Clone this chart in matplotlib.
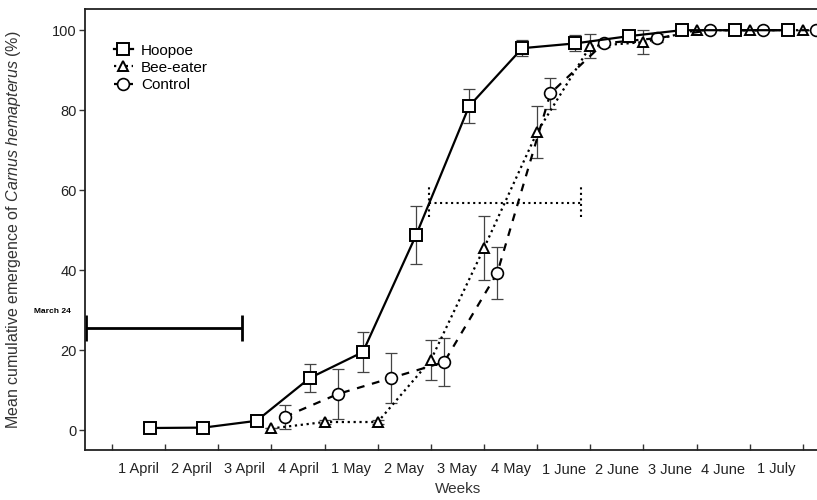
import matplotlib
matplotlib.use('Agg')
import matplotlib.pyplot as plt
import numpy as np

# week labels (one per weekly bin)
weeks = ['1 April', '2 April', '3 April', '4 April', '1 May', '2 May', '3 May',
         '4 May', '1 June', '2 June', '3 June', '4 June', '1 July']

# sampling positions (in weeks from 1 April)
hoopoe_x = [0.72, 1.72, 2.72, 3.72, 4.72, 5.72, 6.72, 7.72, 8.72, 9.72, 10.72, 11.72, 12.72]
hoopoe_y = [0.5, 0.6, 2.3, 13.0, 19.5, 48.7, 81.0, 95.5, 96.7, 98.5, 100, 100, 100]
hoopoe_err = [0, 0, 0, 3.6, 5.0, 7.3, 4.2, 2.0, 2.0, 1.5, 0, 0, 0]

bee_x = [3, 4, 5, 6, 7, 8, 9, 10, 11, 12, 13]
bee_y = [0.4, 2.0, 2.0, 17.5, 45.5, 74.5, 96.0, 97.0, 100, 100, 100]
bee_err = [0, 0.5, 0.5, 5.0, 8.0, 6.5, 3.0, 3.0, 0, 0, 0]

control_x = [3.25, 4.25, 5.25, 6.25, 7.25, 8.25, 9.25, 10.25, 11.25, 12.25, 13.25]
control_y = [3.3, 9.0, 13.0, 17.0, 39.3, 84.2, 96.7, 98.0, 100, 100, 100]
control_err = [3.0, 6.2, 6.3, 6.0, 6.5, 3.8, 1.0, 1.0, 0, 0, 0]

# horizontal ranges (start, end, level)
march_range = [-0.5, 2.45, 25.5]
dotted_range = [5.97, 8.82, 56.8]

plt.rcParams['font.family'] = ['Liberation Sans', 'DejaVu Sans']
plt.rcParams['mathtext.fontset'] = 'custom'
plt.rcParams['mathtext.it'] = 'Liberation Sans:italic'
plt.rcParams['mathtext.rm'] = 'Liberation Sans'

fig = plt.figure(figsize=(8.17, 5), dpi=100)
ax = fig.add_axes([85 / 817, 0.1, (832 - 85) / 817, 0.882])

ek = dict(fmt='none', ecolor='#444444', elinewidth=0.9, capsize=4, capthick=0.9, zorder=2)
ax.errorbar(hoopoe_x, hoopoe_y, yerr=hoopoe_err, **ek)
ax.errorbar(bee_x, bee_y, yerr=bee_err, **ek)
ax.errorbar(control_x, control_y, yerr=control_err, **ek)

ax.plot(hoopoe_x, hoopoe_y, '-', color='black', lw=1.6, marker='s', ms=8.5,
        mfc='white', mec='black', mew=1.4, label='Hoopoe', zorder=4, clip_on=False)
ax.plot(bee_x, bee_y, ':', color='black', lw=1.6, marker='^', ms=7.5,
        mfc='white', mec='black', mew=1.4, label='Bee-eater', zorder=3, clip_on=False)
ax.plot(control_x, control_y, '--', color='black', lw=1.6, dashes=(3.5, 3.5), marker='o', ms=8.5,
        mfc='white', mec='black', mew=1.2, label='Control', zorder=3, clip_on=False)

# March 24 range
x0, x1, yl = march_range
ax.hlines(yl, x0, x1, color='black', lw=2)
ax.vlines([x0, x1], yl - 3.2, yl + 3.2, color='black', lw=2)
ax.text(-1.13, yl + 4.2, 'March 24', fontsize=6, fontweight='bold',
        ha='center', va='center', clip_on=False)

# dotted range
x0, x1, yl = dotted_range
ax.hlines(yl, x0, x1, color='black', lw=1.5, linestyles=':')
ax.vlines([x0, x1], yl - 3.5, yl + 4, color='black', lw=1.5, linestyles=':')

ax.set_xlim(-0.51, 13.55)
ax.set_ylim(-5, 105.3)
ax.set_yticks([0, 20, 40, 60, 80, 100])
ax.set_xticks(np.arange(0, 14))
ax.set_xticklabels([])
ax.set_xticks(np.arange(len(weeks)) + 0.5, minor=True)
ax.set_xticklabels(weeks, minor=True)
ax.tick_params(axis='x', which='major', direction='in', length=4, width=1, color='#333333')
ax.tick_params(axis='x', which='minor', length=0, pad=9, labelsize=10.5, labelcolor='#222222')
ax.tick_params(axis='y', direction='out', length=4, width=1, labelsize=10.5, pad=2,
               labelcolor='#222222', color='#333333')

for s in ['left', 'top', 'bottom']:
    ax.spines[s].set_linewidth(1.3)
    ax.spines[s].set_color('#222222')
ax.spines['right'].set_visible(False)

ax.set_xlabel('Weeks', fontsize=11, color='#333333', labelpad=4)
ax.set_ylabel(r'Mean cumulative emergence of $\it{Carnus\ hemapterus}$ (%)',
              fontsize=11.5, color='#333333', labelpad=21)

ax.legend(loc='upper left', bbox_to_anchor=(0.03, 0.935), frameon=False,
          fontsize=11, handlelength=1.3, handletextpad=0.5, labelspacing=0.2,
          borderaxespad=0)

fig.savefig('out.png', dpi=100)
plt.close()
